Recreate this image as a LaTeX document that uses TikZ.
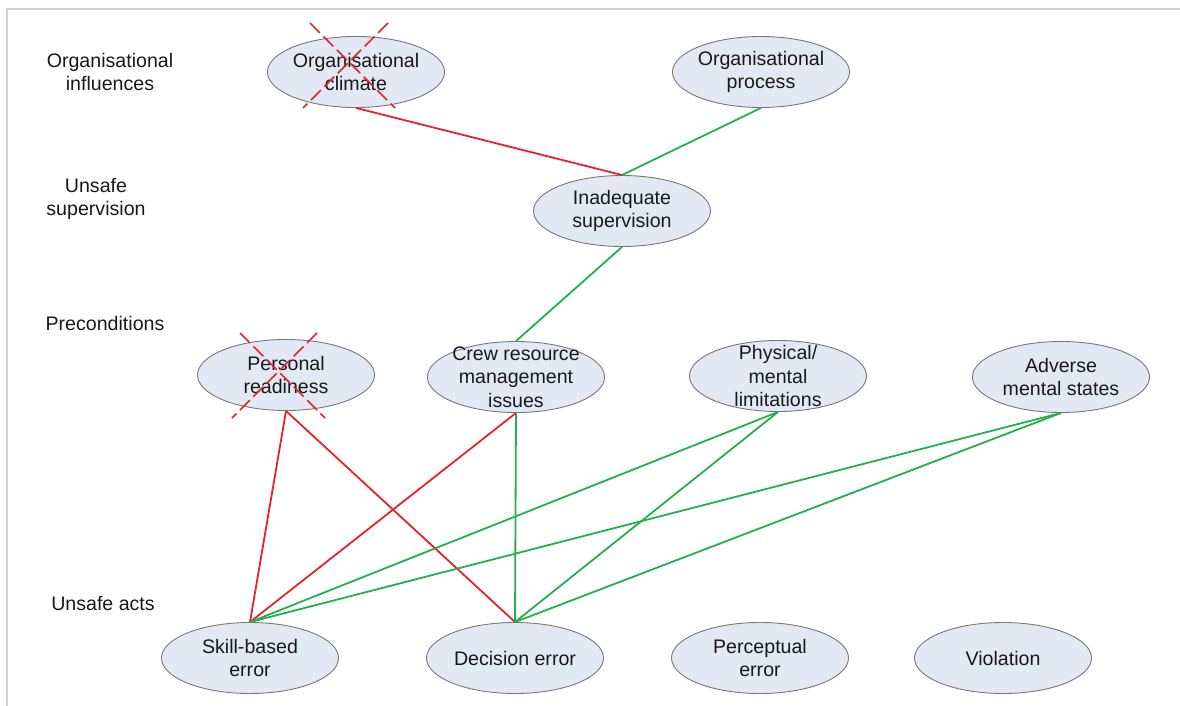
\documentclass[tikz,border=0pt]{standalone}
\usepackage{fontspec}
\setmainfont{Liberation Sans}
\usetikzlibrary{shapes.geometric}
\definecolor{ovalfill}{HTML}{E3E9F4}
\definecolor{ovaledge}{HTML}{787878}
\definecolor{linkred}{HTML}{E8222A}
\definecolor{linkgreen}{HTML}{22B14C}
\definecolor{framegray}{HTML}{D2D2D2}
\tikzset{
  txt/.style={font=\fontsize{19.6}{23.5}\selectfont, align=center, text=black!90},
  oval/.style={ellipse, draw=ovaledge, line width=0.9pt, fill=ovalfill,
    minimum width=177pt, minimum height=71pt, inner sep=0pt,
    label={[txt]center:#1}},
  redlink/.style={draw=linkred, line width=1.8pt},
  greenlink/.style={draw=linkgreen, line width=1.8pt},
  strike/.style={draw=linkred, line width=1.6pt, dash pattern=on 14pt off 5pt},
}
\begin{document}
\begin{tikzpicture}[x=1pt,y=-1pt]
\useasboundingbox (0,0) rectangle (1180,706);
\fill[white] (0,0) rectangle (1180,706);
% frame
\draw[framegray, line width=1.4pt] (7,706) -- (7,9) -- (1180,9);

% level titles
\node[txt] (l1) at (110,72) {Organisational\\influences};
\node[txt] (l2) at (96,199) {Unsafe\\supervision};
\node[txt] (l3) at (105,323) {Preconditions};
\node[txt] (l4) at (103,603) {Unsafe acts};

% causal factors
\node[oval={Organisational\\climate}] (oc) at (356,72) {};
\node[oval={Organisational\\process}] (op) at (761,72) {};
\node[oval={Inadequate\\supervision}] (is) at (622,211) {};
\node[oval={Personal\\readiness}] (pr) at (286,375) {};
\node[oval={Crew resource\\management\\issues}] (cr) at (516,377) {};
\node[oval={Physical/\\mental\\limitations}] (pm) at (778,376) {};
\node[oval={Adverse\\mental states}] (am) at (1061,377) {};
\node[oval={Skill-based\\error}] (sb) at (250,658) {};
\node[oval={Decision error}] (de) at (515,658) {};
\node[oval={Perceptual\\error}] (pe) at (760,658) {};
\node[oval={Violation}] (vi) at (1003,658) {};

% links
\draw[redlink] (oc.south) -- (is.north);
\draw[greenlink] (op.south) -- (is.north);
\draw[greenlink] (is.south) -- (cr.north);
\draw[redlink] (pr.south) -- (sb.north);
\draw[redlink] (pr.south) -- (de.north);
\draw[redlink] (cr.south) -- (sb.north);
\draw[greenlink] (cr.south) -- (de.north);
\draw[greenlink] (pm.south) -- (sb.north);
\draw[greenlink] (pm.south) -- (de.north);
\draw[greenlink] (am.south) -- (sb.north);
\draw[greenlink] (am.south) -- (de.north);

% struck-out factors
\coordinate (oca) at (310,23); \coordinate (ocb) at (395,108);
\coordinate (occ) at (388,23); \coordinate (ocd) at (303,108);
\draw[strike] (oca) -- (ocb);
\draw[strike] (occ) -- (ocd);
\coordinate (pra) at (240,333); \coordinate (prb) at (325,418);
\coordinate (prc) at (317,333); \coordinate (prd) at (232,418);
\draw[strike] (pra) -- (prb);
\draw[strike] (prc) -- (prd);
\end{tikzpicture}
\end{document}
